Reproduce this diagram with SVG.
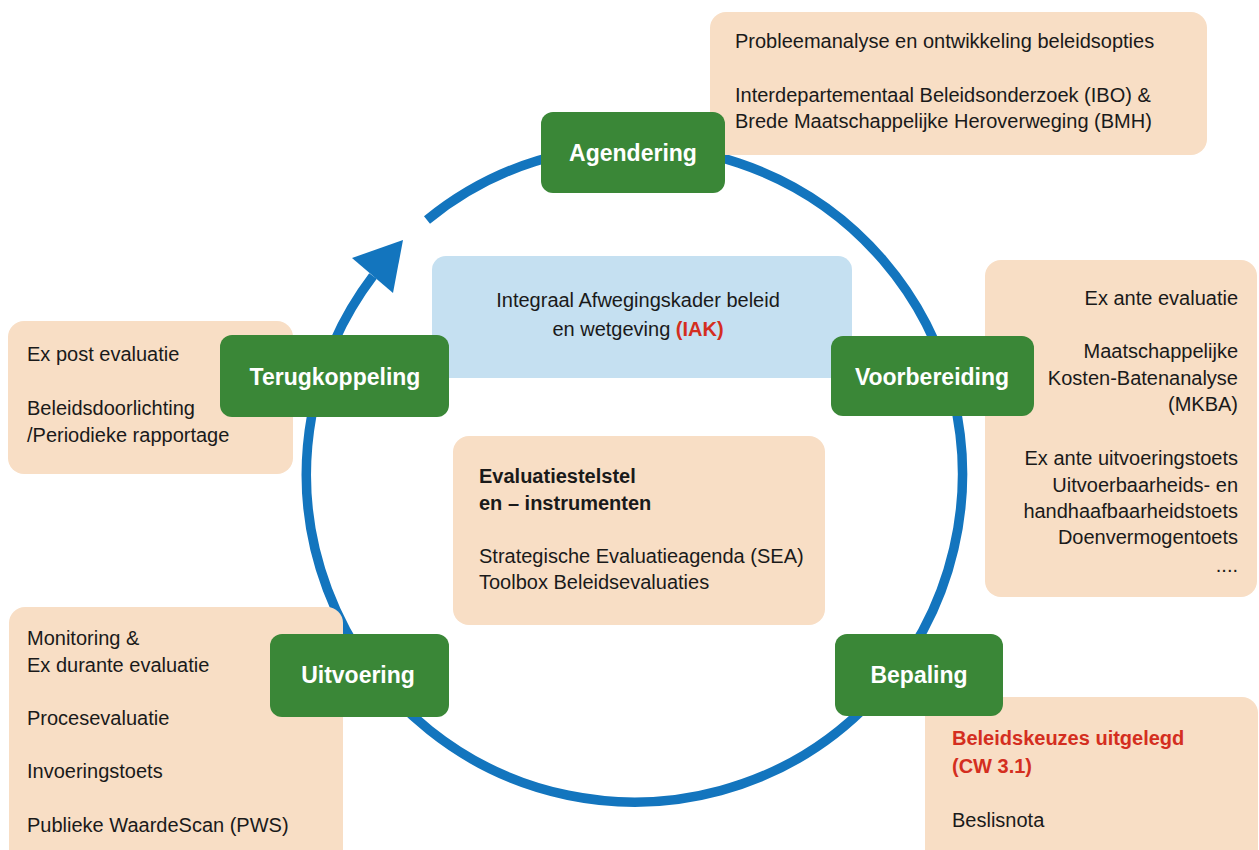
<svg xmlns="http://www.w3.org/2000/svg" width="1259" height="850" viewBox="0 0 1259 850">
<style>
.peach{fill:#f8dec5}
.blue{fill:#c5e0f1}
.green{fill:#3a8737}
.t{font-family:"Liberation Sans",Arial,sans-serif;font-size:20px;fill:#1a1a1a}
.b{font-weight:bold}
.red{fill:#d42e20;font-weight:bold}
.lbl{font-family:"Liberation Sans",Arial,sans-serif;font-size:23px;font-weight:bold;fill:#ffffff;text-anchor:middle}
.ring{fill:none;stroke:#1375be;stroke-width:9.5}
</style>
<rect width="1259" height="850" fill="#ffffff"/>
<g id="connectors">
<path class="ring" d="M 427 220 A 328 328 0 1 1 373 276"/>
<polygon points="403,240 352,258 393,293" fill="#1375be"/>
</g>
<g id="box-agendering-info">
<rect class="peach" x="710" y="12" width="497" height="143" rx="16"/>
<text class="t" x="735" y="48">Probleemanalyse en ontwikkeling beleidsopties</text>
<text class="t" x="735" y="102">Interdepartementaal Beleidsonderzoek (IBO) &amp;</text>
<text class="t" x="735" y="128">Brede Maatschappelijke Heroverweging (BMH)</text>
</g>
<g id="box-voorbereiding-info">
<rect class="peach" x="985" y="260" width="272" height="337" rx="16"/>
<g class="t" text-anchor="end">
<text x="1238" y="305">Ex ante evaluatie</text>
<text x="1238" y="358">Maatschappelijke</text>
<text x="1238" y="385">Kosten-Batenanalyse</text>
<text x="1238" y="411">(MKBA)</text>
<text x="1238" y="465">Ex ante uitvoeringstoets</text>
<text x="1238" y="492">Uitvoerbaarheids- en</text>
<text x="1238" y="518">handhaafbaarheidstoets</text>
<text x="1238" y="544">Doenvermogentoets</text>
<text x="1238" y="572">....</text>
</g>
</g>
<g id="box-bepaling-info">
<rect class="peach" x="925" y="697" width="333" height="180" rx="16"/>
<text class="t red" x="952" y="745">Beleidskeuzes uitgelegd</text>
<text class="t red" x="952" y="773">(CW 3.1)</text>
<text class="t" x="952" y="827">Beslisnota</text>
</g>
<g id="box-uitvoering-info">
<rect class="peach" x="9" y="607" width="334" height="270" rx="16"/>
<text class="t" x="27" y="645">Monitoring &amp;</text>
<text class="t" x="27" y="672">Ex durante evaluatie</text>
<text class="t" x="27" y="725">Procesevaluatie</text>
<text class="t" x="27" y="778">Invoeringstoets</text>
<text class="t" x="27" y="832">Publieke WaardeScan (PWS)</text>
</g>
<g id="box-terugkoppeling-info">
<rect class="peach" x="8" y="321" width="285" height="153" rx="16"/>
<text class="t" x="27" y="361">Ex post evaluatie</text>
<text class="t" x="27" y="415">Beleidsdoorlichting</text>
<text class="t" x="27" y="442">/Periodieke rapportage</text>
</g>
<g id="box-iak">
<rect class="blue" x="432" y="256" width="420" height="122" rx="14"/>
<text class="t" x="638" y="307" text-anchor="middle">Integraal Afwegingskader beleid</text>
<text class="t" x="638" y="336" text-anchor="middle">en wetgeving <tspan class="red">(IAK)</tspan></text>
</g>
<g id="box-evaluatiestelsel">
<rect class="peach" x="453" y="436" width="372" height="189" rx="16"/>
<text class="t b" x="479" y="483">Evaluatiestelstel</text>
<text class="t b" x="479" y="510">en – instrumenten</text>
<text class="t" x="479" y="563">Strategische Evaluatieagenda (SEA)</text>
<text class="t" x="479" y="589">Toolbox Beleidsevaluaties</text>
</g>
<g id="node-agendering">
<rect class="green" x="541" y="112" width="184" height="81" rx="12"/>
<text class="lbl" x="633" y="161">Agendering</text>
</g>
<g id="node-voorbereiding">
<rect class="green" x="831" y="336" width="203" height="80" rx="12"/>
<text class="lbl" x="932" y="385">Voorbereiding</text>
</g>
<g id="node-bepaling">
<rect class="green" x="835" y="634" width="168" height="82" rx="12"/>
<text class="lbl" x="919" y="683">Bepaling</text>
</g>
<g id="node-uitvoering">
<rect class="green" x="270" y="634" width="179" height="83" rx="12"/>
<text class="lbl" x="358" y="683">Uitvoering</text>
</g>
<g id="node-terugkoppeling">
<rect class="green" x="220" y="335" width="229" height="82" rx="12"/>
<text class="lbl" x="335" y="385">Terugkoppeling</text>
</g>
</svg>
